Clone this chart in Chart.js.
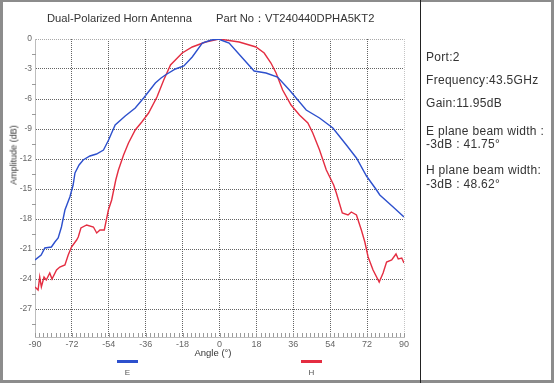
<!DOCTYPE html>
<html><head><meta charset="utf-8">
<script src="https://cdn.jsdelivr.net/npm/chart.js@4/dist/chart.umd.min.js"></script>
<style>
html,body{margin:0;padding:0;background:#fff;}
#wrap{position:relative;width:554px;height:383px;overflow:hidden;font-family:"Liberation Sans",Arial,sans-serif;}
canvas{position:absolute;left:0;top:0;}
.t{position:absolute;white-space:nowrap;color:#333;line-height:1;}
.frame{position:absolute;left:0;top:0;width:554px;height:383px;box-sizing:border-box;border-style:solid;border-color:#8c8c8c;border-width:2px 3px 3px 3px;pointer-events:none;}
.div{position:absolute;left:420px;top:0;width:1px;height:383px;background:#222;}
.info{font-size:12px;letter-spacing:0.3px;left:426px;transform:translateY(-50%);}
</style></head><body>
<div id="wrap">
<canvas id="c" width="554" height="383"></canvas>
<div class="t" style="left:47px;top:19px;font-size:11.2px;transform:translateY(-50%);">Dual-Polarized Horn Antenna</div>
<div class="t" style="left:216px;top:19px;font-size:11.2px;transform:translateY(-50%);">Part No：VT240440DPHA5KT2</div>
<div class="t" style="left:14px;top:155px;font-size:9px;transform:translate(-50%,-50%) rotate(-90deg);">Amplitude (dB)</div>
<div class="t" style="left:213px;top:353px;font-size:9.5px;transform:translate(-50%,-50%);">Angle (°)</div>
<div class="t info" style="top:57px;">Port:2</div>
<div class="t info" style="top:80px;">Frequency:43.5GHz</div>
<div class="t info" style="top:103px;">Gain:11.95dB</div>
<div class="t info" style="top:131px;">E plane beam width :</div>
<div class="t info" style="top:144px;">-3dB : 41.75°</div>
<div class="t info" style="top:170px;">H plane beam width:</div>
<div class="t info" style="top:184px;">-3dB : 48.62°</div>
<div class="frame"></div>
<div class="div"></div>
</div>
<script>
// ---- data ----
const xTicks = [-90,-72,-54,-36,-18,0,18,36,54,72,90];
const yTicks = [0,-3,-6,-9,-12,-15,-18,-21,-24,-27];
const seriesNames = ['E','H'];
const eAngle = [-90,-87,-85.2,-82,-80.3,-78.7,-77.1,-75.4,-73,-71.4,-70.5,-68.5,-66.5,-63.2,-60,-56.6,-54.1,-50.9,-46,-41.1,-37,-31.3,-28.5,-26.4,-21.5,-17.4,-13.3,-8.4,-4,-0.5,2,4.7,11.2,16.9,22.7,28.3,34.1,42.3,48.8,55.3,61.9,66.8,71.7,76.6,78.2,84.7,90];
const eGain  = [-22.1,-21.6,-20.9,-20.8,-20.3,-19.9,-18.8,-17.1,-15.8,-14.6,-13.4,-12.6,-12.1,-11.7,-11.5,-11.1,-10.1,-8.6,-7.7,-6.9,-5.9,-4.4,-3.9,-3.6,-3.0,-2.7,-1.8,-0.4,-0.1,0,-0.2,-0.4,-1.9,-3.2,-3.4,-3.8,-5.1,-7.1,-7.9,-8.9,-10.6,-11.9,-13.7,-15.1,-15.6,-16.8,-17.8];
const hAngle = [-90,-88.5,-87.7,-86.9,-85.6,-84.5,-82.8,-81.7,-79.5,-77.9,-75.4,-73.8,-72.2,-69.7,-68.9,-67.6,-64.8,-61.5,-59.9,-58.3,-56.2,-54.2,-52.6,-50.6,-49.3,-46.8,-44.4,-41.1,-37.9,-34.6,-30.5,-27.2,-23.9,-18.2,-13.3,-6.8,-0.2,9.6,17.8,21.8,25.1,27.6,30.8,34.9,39.0,43.1,45.5,48.8,52.1,55.7,57.0,59.9,62.7,64.3,66.8,69.2,70.9,72.5,74.9,77.9,79.8,81.5,84.0,86.1,87.2,88.9,90];
const hGain  = [-24.8,-25.1,-23.8,-24.8,-23.8,-24.1,-23.4,-24.0,-23.1,-22.8,-22.6,-21.6,-20.8,-20.1,-19.8,-18.9,-18.6,-18.8,-19.4,-19.1,-19.1,-17.1,-16.1,-14.1,-13.1,-11.6,-10.4,-9.1,-8.3,-7.4,-5.8,-4.1,-2.6,-1.4,-0.8,-0.3,0,-0.3,-0.8,-1.4,-2.4,-3.4,-5.1,-6.6,-7.6,-8.4,-9.4,-11.1,-13.1,-14.6,-15.4,-17.4,-17.6,-17.3,-17.6,-19.1,-20.3,-21.8,-23.1,-24.3,-23.4,-22.3,-22.1,-21.5,-22.0,-21.9,-22.4];

const pts = (xs, ys) => xs.map((v,i)=>({x:v,y:ys[i]}));

const decor = {
  id:'decor',
  beforeDatasetsDraw(chart){
    const {ctx, chartArea:a, scales:{x,y}} = chart;
    ctx.save();
    ctx.strokeStyle='#9a9a9a'; ctx.lineWidth=1;
    ctx.beginPath();
    for(let v=x.min; v<=x.max; v+=2){
      const px=Math.round(x.getPixelForValue(v))+0.5;
      ctx.moveTo(px,a.bottom-4); ctx.lineTo(px,a.bottom);
    }
    for(let i=0;i<yTicks.length;i++){
      const v=yTicks[i]-1.5;
      const py=Math.round(y.getPixelForValue(v))+0.5;
      ctx.moveTo(a.left-3,py); ctx.lineTo(a.left+1,py);
    }
    ctx.stroke();
    ctx.restore();
  },
  afterDraw(chart){
    const {ctx} = chart;
    const cx=[127.5,311.5];
    ctx.save();
    chart.data.datasets.forEach((ds,i)=>{
      ctx.strokeStyle=ds.borderColor; ctx.lineWidth=3;
      ctx.beginPath(); ctx.moveTo(cx[i]-10.5,361.5); ctx.lineTo(cx[i]+10.5,361.5); ctx.stroke();
      ctx.fillStyle='#555'; ctx.font='8px "Liberation Sans", Arial, sans-serif';
      ctx.textAlign='center'; ctx.textBaseline='middle';
      ctx.fillText(ds.label,cx[i],372.5);
    });
    ctx.restore();
  }
};

new Chart(document.getElementById('c'),{
  type:'line',
  data:{datasets:[
    {label:seriesNames[0],data:pts(eAngle,eGain),borderColor:'rgb(45,80,205)',borderWidth:1.4,pointRadius:0,tension:0},
    {label:seriesNames[1],data:pts(hAngle,hGain),borderColor:'rgb(228,45,65)',borderWidth:1.4,pointRadius:0,tension:0}
  ]},
  options:{
    responsive:false,animation:false,devicePixelRatio:1,
    layout:{padding:{left:0,top:39,right:150,bottom:0}},
    plugins:{legend:{display:false},title:{display:false},tooltip:{enabled:false}},
    scales:{
      x:{type:'linear',min:-90,max:90,
        afterBuildTicks:s=>{s.ticks=xTicks.map(v=>({value:v}));},
        afterFit:s=>{s.height=46;},
        ticks:{padding:2,color:'#666',font:{size:9,family:'"Liberation Sans", Arial'},maxRotation:0,autoSkip:false},
        grid:{drawTicks:false,color:c=>(c.tick&&(c.tick.value===90))?'#c4c4c4':'rgba(60,60,60,0.8)',lineWidth:1},
        border:{display:true,color:'#bdbdbd',dash:[1,1]}
      },
      y:{type:'linear',min:-29.8,max:0,
        afterBuildTicks:s=>{s.ticks=yTicks.map(v=>({value:v}));},
        afterFit:s=>{s.width=35;},
        ticks:{padding:3,color:'#666',font:{size:8.5,family:'"Liberation Sans", Arial'},autoSkip:false},
        grid:{drawTicks:false,color:c=>(c.tick&&(c.tick.value===0))?'#a8a8a8':'rgba(60,60,60,0.8)',lineWidth:1},
        border:{display:true,color:'#bdbdbd',dash:[1,1]}
      }
    }
  },
  plugins:[decor]
});
</script>
</body></html>
